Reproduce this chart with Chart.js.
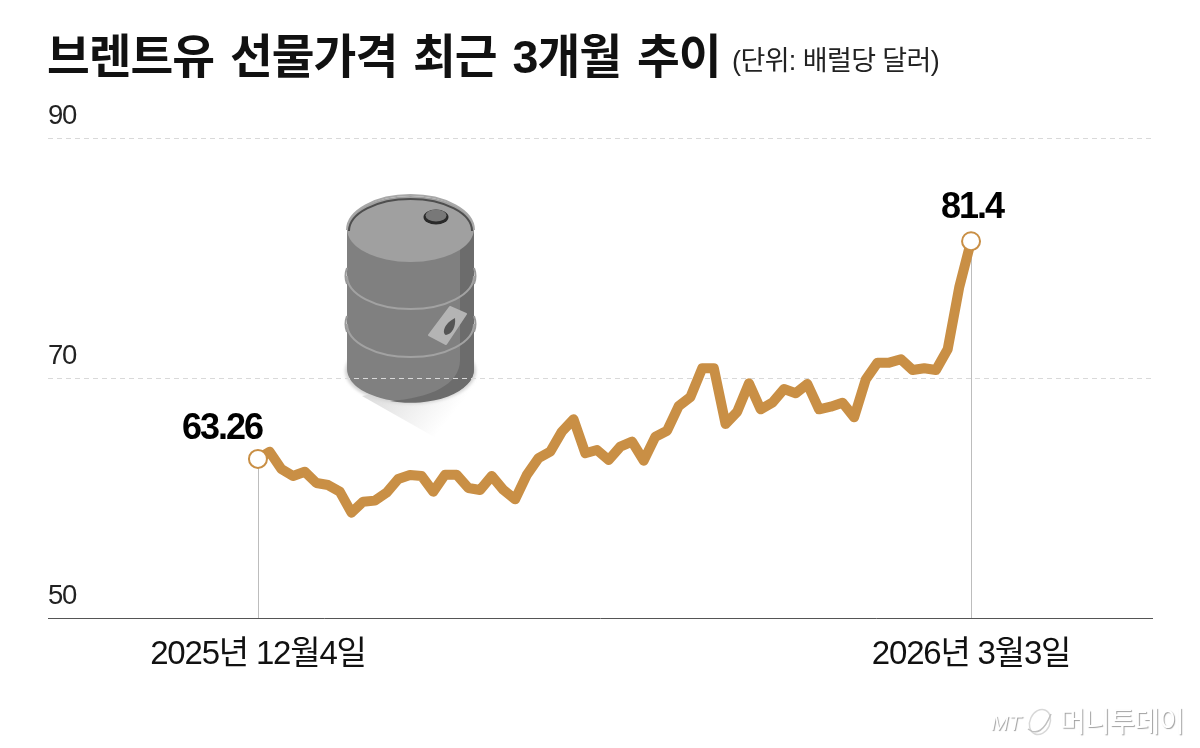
<!DOCTYPE html>
<html lang="ko">
<head>
<meta charset="utf-8">
<title>브렌트유 선물가격 최근 3개월 추이</title>
<script src="https://cdn.jsdelivr.net/npm/chart.js@4"></script>
<style>
  html, body { margin: 0; background: #fff; }
  body { position: relative; width: 1200px; height: 748px; overflow: hidden;
         font-family: "Liberation Sans", "Noto Sans CJK KR", sans-serif; }
  #art, #chart { position: absolute; left: 0; top: 0; }
  .title { position: absolute; left: 47px; top: 29px; white-space: nowrap; color: #111;
           font-size: 46.5px; line-height: 56px; font-weight: 700; letter-spacing: -1px; word-spacing: 4px; }
  .unit { position: absolute; left: 732px; top: 43px; white-space: nowrap; color: #222;
          font-size: 27px; line-height: 36px; letter-spacing: -0.6px; }
  .mark { position: absolute; white-space: nowrap; color: #fff; text-shadow: 1px 1px 1px #a0a0a0; }
  .mark.mt { left: 991px; top: 711px; font-size: 21px; line-height: 24px; font-style: italic; }
  .mark.name { left: 1060px; top: 704px; font-size: 28px; line-height: 38px; letter-spacing: -1px; }
</style>
</head>
<body>

<!-- barrel illustration sits under the transparent canvas so the gridline runs over it -->
<svg id="art" width="1200" height="748" viewBox="0 0 1200 748">
  <defs>
    <linearGradient id="shadow" x1="375" y1="390" x2="435" y2="437" gradientUnits="userSpaceOnUse">
      <stop offset="0" stop-color="#dedede"/>
      <stop offset="1" stop-color="#ffffff"/>
    </linearGradient>
    <filter id="soft"><feGaussianBlur stdDeviation="1.5"/></filter>
  </defs>
  <polygon points="362,396 476,372 500,420 436,438" fill="url(#shadow)"/>
  <ellipse cx="410.5" cy="371" rx="65.5" ry="33" fill="#d4d4d4" filter="url(#soft)"/>
  <path d="M347 229 L474 229 L474 369 A63.5 33 0 0 1 347 369 Z" fill="#808080"/>
  <path d="M460 240 L474 229 L474 369 A63.5 33 0 0 1 390 401 C430 398 460 385 460 360 Z" fill="#6c6c6c"/>
  <path d="M347 276 A63.5 33 0 0 0 474 276" fill="none" stroke="#a2a2a2" stroke-width="2"/>
  <path d="M347 324 A63.5 33 0 0 0 474 324" fill="none" stroke="#a2a2a2" stroke-width="2"/>
  <path d="M347 268 Q344 276 347 284 M347 316 Q344 324 347 332 M474 268 Q477 276 474 284 M474 316 Q477 324 474 332"
        fill="none" stroke="#9a9a9a" stroke-width="2"/>
  <ellipse cx="410.5" cy="229" rx="63.5" ry="33" fill="#a0a0a0"/>
  <path d="M347 230 A63.5 35 0 0 1 474 230" fill="none" stroke="#a8a8a8" stroke-width="2"/>
  <path d="M349 231 A61.5 32 0 0 1 472 231" fill="none" stroke="#4e4e4e" stroke-width="2"/>
  <ellipse cx="436" cy="217" rx="12.5" ry="7.5" fill="#2a2a2a"/>
  <ellipse cx="436" cy="215.5" rx="10.5" ry="6" fill="#787878"/>
  <polygon points="450,307 466,314 446,344 429,335" fill="#b4b4b4" stroke="#b4b4b4" stroke-width="2" stroke-linejoin="round"/>
  <path d="M455 318 C456 327 452 334 446 335 C442 334 443 324 455 318 Z" fill="#555"/>
  <!-- watermark logo ring -->
  <ellipse cx="1040" cy="722" rx="10" ry="13" transform="rotate(25 1040 722)" fill="none" stroke="#d8d8d8" stroke-width="1.5"/>
  <path d="M1028 729 Q1041 739 1051 714" fill="none" stroke="#c0c0c0" stroke-width="1.5"/>
</svg>

<canvas id="chart" width="1200" height="748"></canvas>

<div class="title">브렌트유 선물가격 최근 3개월 추이</div>
<div class="unit">(단위: 배럴당 달러)</div>
<div class="mark mt">MT</div>
<div class="mark name">머니투데이</div>

<script>
/* ---- Data ---- */
const prices = [
  63.26, 63.86, 62.42, 61.83, 62.19, 61.25, 61.08, 60.53, 58.78, 59.69,
  59.78, 60.44, 61.58, 61.92, 61.83, 60.53, 61.94, 61.94, 60.83, 60.67,
  61.83, 60.67, 59.89, 61.92, 63.33, 63.86, 65.53, 66.56, 63.73, 64.0,
  63.17, 64.28, 64.69, 63.11, 65.11, 65.61, 67.67, 68.42, 70.81, 70.81,
  66.17, 67.19, 69.56, 67.39, 67.94, 69.08, 68.73, 69.5, 67.39, 67.61,
  67.94, 66.73, 69.89, 71.28, 71.28, 71.56, 70.67, 70.81, 70.67, 72.39,
  77.61, 81.4,
];
const yTicks = [50, 70, 90];
const firstIndex = 0;
const lastIndex = prices.length - 1;
const tickLabels = ['2025년 12월4일', '2026년 3월3일'];
const endLabels = ['63.26', '81.4'];

const LINE_COLOR = '#c98f45';
const FONT = '"Liberation Sans", "Noto Sans CJK KR", sans-serif';

/* ---- Plugins ---- */

// canvas text tracking, the labels in the original are set tight
const tightText = {
  id: 'tightText',
  beforeDraw(chart) { chart.ctx.letterSpacing = '-1.2px'; },
};

// thin grey drop lines from the two end markers to the baseline
const dropLines = {
  id: 'dropLines',
  beforeDatasetsDraw(chart) {
    const { ctx, scales: { x, y } } = chart;
    ctx.save();
    ctx.strokeStyle = '#bdbdbd';
    ctx.lineWidth = 1;
    [firstIndex, lastIndex].forEach((i) => {
      const px = Math.round(x.getPixelForValue(i)) + 0.5;
      ctx.beginPath();
      ctx.moveTo(px, y.getPixelForValue(prices[i]));
      ctx.lineTo(px, y.bottom);
      ctx.stroke();
    });
    ctx.restore();
  },
};

// bold values above the end markers
const endValues = {
  id: 'endValues',
  afterDatasetsDraw(chart) {
    const { ctx, scales: { x, y } } = chart;
    ctx.save();
    ctx.font = `700 36px ${FONT}`;
    ctx.fillStyle = '#000';
    ctx.textAlign = 'center';
    ctx.textBaseline = 'middle';
    ctx.letterSpacing = '-2px';
    ctx.fillText(endLabels[0], x.getPixelForValue(firstIndex) - 36, y.getPixelForValue(prices[firstIndex]) - 30);
    ctx.fillText(endLabels[1], x.getPixelForValue(lastIndex) + 1, y.getPixelForValue(prices[lastIndex]) - 33);
    ctx.restore();
  },
};

/* ---- Chart ---- */

const isEnd = (i) => i === firstIndex || i === lastIndex;

new Chart(document.getElementById('chart'), {
  type: 'line',
  data: {
    datasets: [{
      data: prices.map((y, x) => ({ x, y })),
      borderColor: LINE_COLOR,
      borderWidth: 10,
      borderJoinStyle: 'round',
      tension: 0,
      pointRadius: (c) => (isEnd(c.dataIndex) ? 9 : 0),
      pointBorderWidth: 2,
      pointBorderColor: LINE_COLOR,
      pointBackgroundColor: '#fff',
    }],
  },
  plugins: [tightText, dropLines, endValues],
  options: {
    responsive: false,
    animation: false,
    layout: { padding: { left: 48, right: 48, top: 138, bottom: 0 } },
    plugins: { legend: { display: false }, tooltip: { enabled: false } },
    scales: {
      x: {
        type: 'linear',
        min: -17.96,
        max: 76.48,
        afterFit: (scale) => { scale.height = 130; },
        afterBuildTicks: (scale) => { scale.ticks = [{ value: firstIndex }, { value: lastIndex }]; },
        grid: { display: false },
        border: { color: '#555', width: 1 },
        ticks: {
          autoSkip: false,
          maxRotation: 0,
          padding: 9,
          color: '#111',
          font: { family: FONT, size: 33 },
          callback: (v) => tickLabels[v === firstIndex ? 0 : 1],
        },
      },
      y: {
        min: 50,
        max: 90,
        afterBuildTicks: (scale) => { scale.ticks = yTicks.map((value) => ({ value })); },
        grid: {
          drawTicks: false,
          color: (c) => (c.tick.value === 50 ? 'transparent' : '#d9d9d9'),
        },
        border: { display: false, dash: [5, 4] },
        ticks: {
          mirror: true,
          padding: 0,
          labelOffset: -22,
          color: '#222',
          font: { family: FONT, size: 27.5 },
        },
      },
    },
  },
});
</script>
</body>
</html>
